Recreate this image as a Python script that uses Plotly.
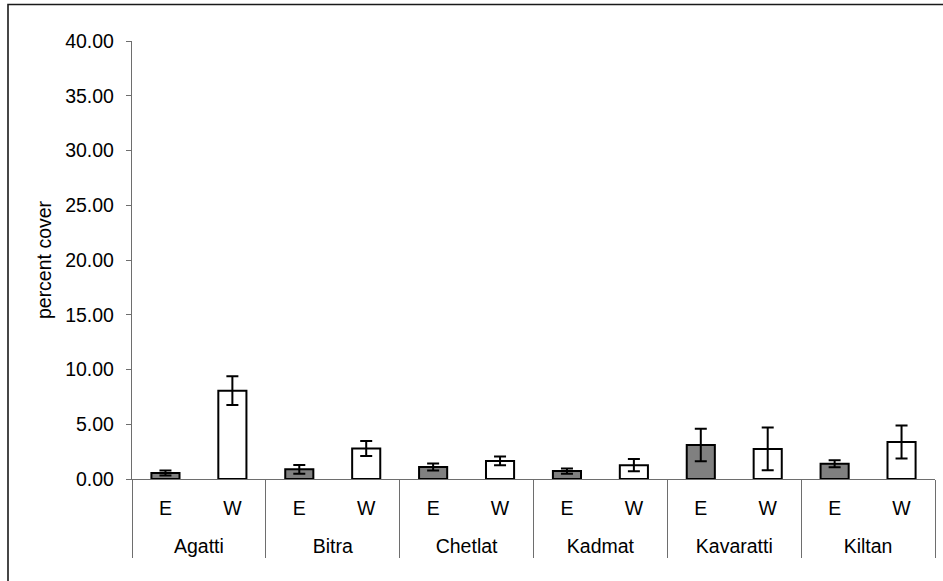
import plotly.graph_objects as go

# Percent cover by island and reef side (E = east, W = west), mean with error
islands = ["Agatti", "Bitra", "Chetlat", "Kadmat", "Kavaratti", "Kiltan"]
sides = ["E", "W"]
east_mean = [0.55, 0.88, 1.10, 0.72, 3.10, 1.40]
east_err = [0.22, 0.40, 0.32, 0.23, 1.48, 0.32]
west_mean = [8.07, 2.78, 1.65, 1.26, 2.75, 3.38]
west_err = [1.32, 0.68, 0.40, 0.56, 1.96, 1.50]

east_fill = "#808080"
west_fill = "#ffffff"
axis_grey = "#6e6e6e"
font_family = "Liberation Sans, Arial, sans-serif"
font_size = 19.5

# Interleave the two sides so each island keeps its E and W bars together.
# The island level gets a leading line break to sit lower under the side labels.
outer, inner, values, errors, fills = [], [], [], [], []
for i, isl in enumerate(islands):
    for side, means, errs, fill in (
        (sides[0], east_mean, east_err, east_fill),
        (sides[1], west_mean, west_err, west_fill),
    ):
        outer.append("<br>" + isl)
        inner.append(side)
        values.append(means[i])
        errors.append(errs[i])
        fills.append(fill)

fig = go.Figure(
    go.Bar(
        x=[outer, inner],
        y=values,
        width=0.42,
        marker=dict(color=fills, line=dict(color="#000000", width=2)),
        error_y=dict(
            type="data",
            array=errors,
            visible=True,
            color="#000000",
            thickness=2,
            width=6,
        ),
        showlegend=False,
    )
)

fig.update_layout(
    width=943,
    height=581,
    margin=dict(l=132, r=8, t=41, b=102, autoexpand=False),
    paper_bgcolor="#ffffff",
    plot_bgcolor="#ffffff",
    font=dict(family=font_family, size=font_size, color="#000000"),
    bargap=0.58,
    shapes=[
        # chart frame (top and left edges visible)
        dict(
            type="rect",
            xref="paper",
            yref="paper",
            x0=(8 - 132) / 803,
            x1=(960 - 132) / 803,
            y0=(479 - 600) / 438,
            y1=(479 - 4.5) / 438,
            line=dict(color="#1a1a1a", width=1.6),
            layer="below",
        )
    ],
)

fig.update_xaxes(
    type="multicategory",
    showline=True,
    linecolor=axis_grey,
    linewidth=1.3,
    ticks="",
    ticklabelstandoff=11,
    showdividers=True,
    dividercolor=axis_grey,
    dividerwidth=1.3,
    showgrid=False,
    zeroline=False,
    tickfont=dict(family=font_family, size=font_size, color="#000000"),
)

fig.update_yaxes(
    range=[0, 40],
    dtick=5,
    tick0=0,
    tickformat=".2f",
    showline=True,
    linecolor=axis_grey,
    linewidth=1.3,
    ticks="outside",
    ticklen=5,
    tickcolor=axis_grey,
    tickwidth=1.3,
    ticklabelstandoff=8,
    showgrid=False,
    zeroline=False,
    tickfont=dict(family=font_family, size=font_size, color="#000000"),
    title=dict(text="percent cover", font=dict(family=font_family, size=font_size), standoff=8),
)

fig.write_html("out.html")
